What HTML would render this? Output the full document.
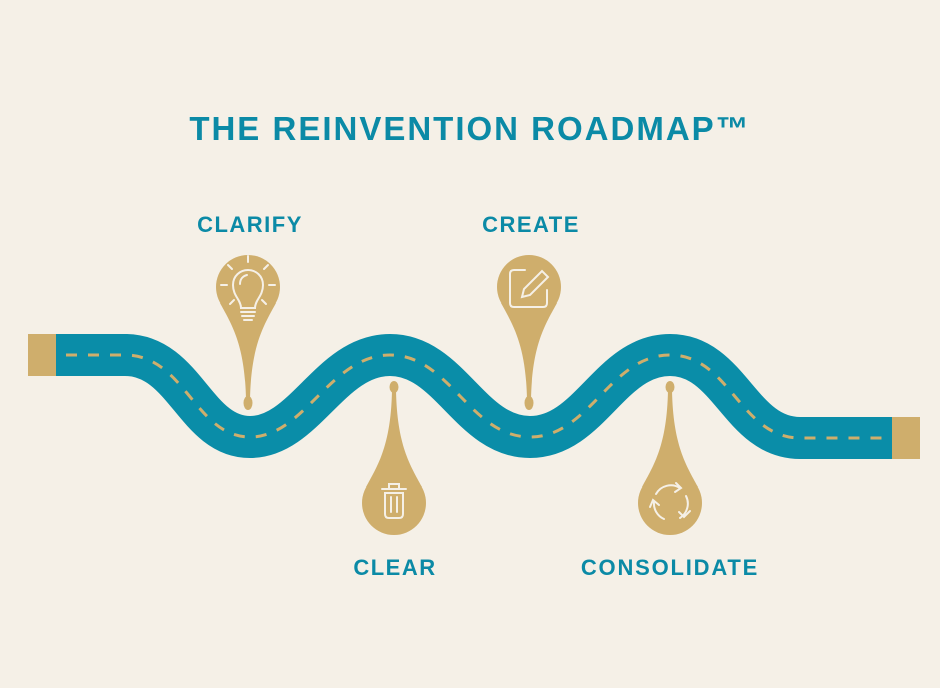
<!DOCTYPE html>
<html><head><meta charset="utf-8"><style>
html,body{margin:0;padding:0;background:#f5f0e7;}
svg{display:block}
text{font-family:"Liberation Sans",sans-serif;font-weight:bold;fill:#0b8aa6;text-anchor:middle}
</style></head><body>
<svg width="940" height="688" viewBox="0 0 940 688">
<rect width="940" height="688" fill="#f5f0e7"/>
<text x="470" y="140" font-size="33" letter-spacing="2">THE REINVENTION ROADMAP™</text>
<text x="250" y="232" font-size="22" letter-spacing="1.5">CLARIFY</text>
<text x="531" y="232" font-size="22" letter-spacing="1.5">CREATE</text>
<text x="395" y="575" font-size="22" letter-spacing="1.5">CLEAR</text>
<text x="670" y="575" font-size="22" letter-spacing="1.8">CONSOLIDATE</text>

<rect x="28" y="334" width="30" height="42" fill="#cfae6c"/>
<rect x="890" y="417" width="30" height="42" fill="#cfae6c"/>
<path d="M56 355 H125 C185 355 195 437 250 437 S330 355 390 355 S470 437 530 437 S610 355 670 355 S740 438 800 438 H892" fill="none" stroke="#0a8da8" stroke-width="42"/>
<path d="M66 355 H125 C185 355 195 437 250 437 S330 355 390 355 S470 437 530 437 S610 355 670 355 S740 438 800 438 H890" fill="none" stroke="#cfae6c" stroke-width="3" stroke-dasharray="11 11"/>

<g fill="#cfae6c">
 <circle cx="248" cy="287" r="32"/>
 <path d="M220 303 C232 325 245 345 246 400 L250 400 C251 345 264 325 276 303 Z"/>
 <ellipse cx="248" cy="403" rx="4.5" ry="7"/>
 <circle cx="529" cy="287" r="32"/>
 <path d="M501 303 C513 325 526 345 527 400 L531 400 C532 345 545 325 557 303 Z"/>
 <ellipse cx="529" cy="403" rx="4.5" ry="7"/>
 <circle cx="394" cy="503" r="32"/>
 <path d="M366 487 C378 465 391 445 392 390 L396 390 C397 445 410 465 422 487 Z"/>
 <ellipse cx="394" cy="387" rx="4.5" ry="6"/>
 <circle cx="670" cy="503" r="32"/>
 <path d="M642 487 C654 465 667 445 668 390 L672 390 C673 445 686 465 698 487 Z"/>
 <ellipse cx="670" cy="387" rx="4.5" ry="6"/>
</g>

<g fill="none" stroke="#f5f0e7" stroke-width="2" stroke-linecap="round">
 <path d="M241 308 C241 300 233 296 233 285 C233 276 240 270 248 270 C256 270 263 276 263 285 C263 296 255 300 255 308 Z"/>
 <line x1="241" y1="312" x2="255" y2="312"/><line x1="242" y1="316" x2="254" y2="316"/><line x1="244" y1="320" x2="252" y2="320"/>
 <path d="M240 284 C240 279 243 276 247 275"/>
 <line x1="248" y1="256" x2="248" y2="262"/><line x1="228" y1="265" x2="232" y2="269"/><line x1="268" y1="265" x2="264" y2="269"/>
 <line x1="221" y1="285" x2="227" y2="285"/><line x1="269" y1="285" x2="275" y2="285"/>
 <line x1="230" y1="304" x2="234" y2="300"/><line x1="266" y1="304" x2="262" y2="300"/>
 <path d="M525 270 H514 Q510 270 510 274 V303 Q510 307 514 307 H543 Q547 307 547 303 V290"/>
 <path d="M522 297 L524 289 L542 271 L548 277 L530 295 Z"/>
 <path d="M382 489 H406 M389 489 V484 H399 V489"/>
 <path d="M385 493 V514 Q385 518 389 518 H399 Q403 518 403 514 V493 Z"/>
 <line x1="391" y1="497" x2="391" y2="512"/><line x1="397" y1="497" x2="397" y2="512"/>
 <path d="M656 494 A17 17 0 0 1 680 488"/>
 <path d="M686 496 A17 17 0 0 1 680 518"/>
 <path d="M664 519 A17 17 0 0 1 654 502"/>
 <path d="M676 483 L681 488 L675 492"/>
 <path d="M690 511 L684 517 L679 512"/>
 <path d="M650 507 L653 500 L659 505"/>
</g>
</svg>
</body></html>
